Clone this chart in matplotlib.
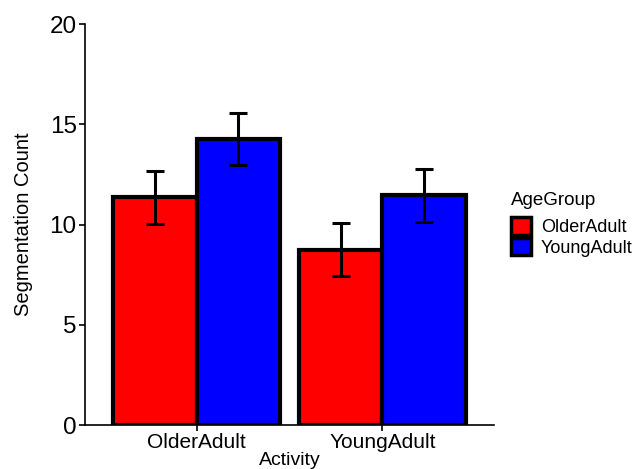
import matplotlib
matplotlib.use("Agg")
import matplotlib.pyplot as plt
import numpy as np
from matplotlib.patches import Patch

activities = ["OlderAdult", "YoungAdult"]
groups = ["OlderAdult", "YoungAdult"]
means = {"OlderAdult": [11.35, 8.75], "YoungAdult": [14.25, 11.45]}
errors = {"OlderAdult": [1.33, 1.31], "YoungAdult": [1.30, 1.31]}
colors = {"OlderAdult": "#ff0000", "YoungAdult": "#0000ff"}
yticks = [0, 5, 10, 15, 20]

plt.rcParams['font.family'] = ['Liberation Sans', 'DejaVu Sans']

fig = plt.figure(figsize=(6.44, 4.69), dpi=100)
ax = fig.add_axes([0.132, 0.0938, 0.635, 0.855])

x = np.arange(1, len(activities) + 1)
w = 0.45
for i, g in enumerate(groups):
    pos = x + (i - 0.5) * w
    ax.bar(pos, means[g], width=w, color=colors[g], edgecolor="black",
           linewidth=3, zorder=2)
    ax.errorbar(pos, means[g], yerr=errors[g], fmt="none", ecolor="black",
                elinewidth=2.2, capsize=6.5, capthick=2.2, zorder=3)

ax.set_xlim(0.4, 2.6)
ax.set_ylim(0, 20)
ax.set_xticks(x)
ax.set_xticklabels(activities, fontsize=15)
ax.set_yticks(yticks)
ax.set_yticklabels([str(t) for t in yticks], fontsize=17.5)
for s in ["top", "right"]:
    ax.spines[s].set_visible(False)
for s in ["left", "bottom"]:
    ax.spines[s].set_linewidth(1.2)
ax.tick_params(axis="both", direction="out", length=4, width=1.2, colors="black", pad=2)
ax.set_xlabel("Activity", fontsize=14, labelpad=0)
ax.set_ylabel("Segmentation Count", fontsize=14.5, labelpad=12)

handles = [Patch(facecolor=colors[g], edgecolor="black", linewidth=2.5, label=g) for g in groups]
leg = fig.legend(handles=handles, title="AgeGroup", loc="upper left",
                 bbox_to_anchor=(0.768, 0.625), frameon=False, fontsize=13,
                 title_fontsize=13.5, handlelength=1.1, handleheight=1.1,
                 handletextpad=0.55, labelspacing=0.1)
leg._legend_box.align = "left"
leg._legend_box.sep = 6

fig.savefig("out.png", dpi=100)
